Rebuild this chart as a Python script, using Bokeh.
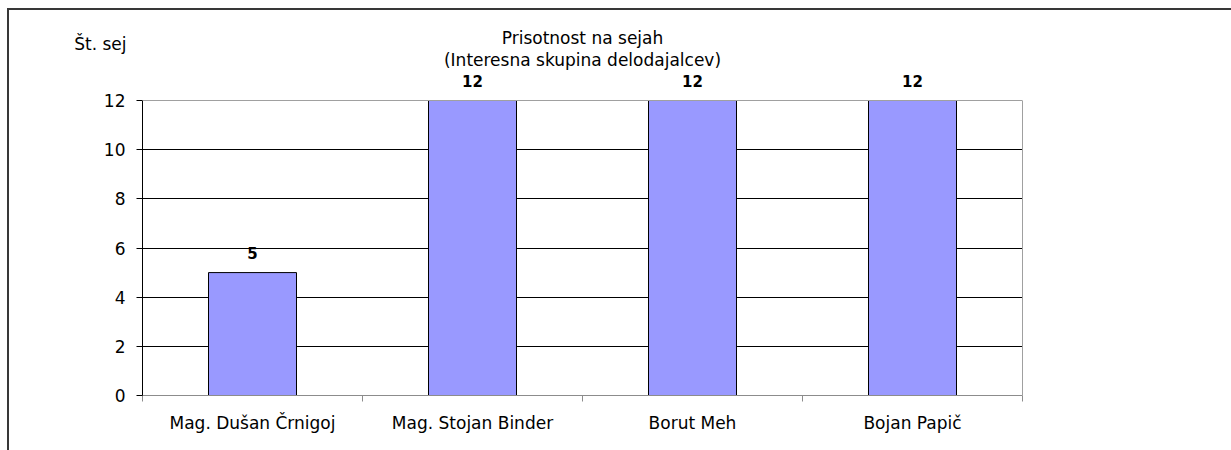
from bokeh.plotting import figure
from bokeh.layouts import column
from bokeh.models import (Range1d, FixedTicker, ColumnDataSource, LabelSet, Label,
                          Span, LinearAxis)
from bokeh.core.properties import value
from bokeh.embed import file_html
from bokeh.resources import INLINE

categories = ["Mag. Dušan Črnigoj", "Mag. Stojan Binder", "Borut Meh", "Bojan Papič"]
values = [5, 12, 12, 12]
y_ticks = [0, 2, 4, 6, 8, 10, 12]
title_lines = ["Prisotnost na sejah", "(Interesna skupina delodajalcev)"]
y_title = "Št. sej"

FONT = "DejaVu Sans"
FS = "17px"

# layout geometry (pixels)
W = 1222
FL, FR = 133, 209          # left / right borders (shared by both rows)
HEAD_H = 60                # header strip height
HEAD_TOP = 6
MAIN_H = 380
GAP_TOP = 30               # pixels between main frame top and the value 12
MB_BOT = 55
AX_GRAY = "#8c8c8c"

n = len(categories)
ymax = max(y_ticks)
xpos = [i + 0.5 for i in range(n)]
src = ColumnDataSource(dict(x=xpos, top=values, lab=[str(v) for v in values]))

uy = (MAIN_H - MB_BOT - GAP_TOP) / ymax     # px per y unit
y_top = ymax + GAP_TOP / uy

# ---- main plot ----
p = figure(width=W, height=MAIN_H, output_backend="svg", toolbar_location=None,
           x_range=Range1d(0, n), y_range=Range1d(0, y_top),
           min_border_left=FL, min_border_right=FR,
           min_border_top=0, min_border_bottom=MB_BOT)
p.background_fill_color = "white"
p.border_fill_color = "white"
p.outline_line_color = None

p.vbar(x="x", top="top", width=0.4, bottom=0, source=src,
       fill_color="#9999FF", line_color="black", line_width=1)

p.yaxis.ticker = FixedTicker(ticks=y_ticks)
p.yaxis.bounds = (0, ymax)
p.yaxis.axis_line_color = "black"
p.yaxis.major_tick_line_color = "black"
p.yaxis.major_tick_out = 6
p.yaxis.major_tick_in = 0
p.yaxis.minor_tick_line_color = None
p.yaxis.major_label_standoff = 11
p.yaxis.major_label_text_font = FONT
p.yaxis.major_label_text_font_size = FS
p.yaxis.major_label_text_color = "black"

# right border of the plot area, limited to 0..12
right_ax = LinearAxis(ticker=FixedTicker(ticks=[]), bounds=(0, ymax),
                      axis_line_color="#a0a0a0", major_tick_line_color=None,
                      minor_tick_line_color=None, major_tick_out=0, minor_tick_out=0,
                      major_label_text_font_size="0px")
p.add_layout(right_ax, "right")

# top border of the plot area at 12
p.add_layout(Span(location=ymax, dimension="width", line_color="#a0a0a0", line_width=1))

p.xaxis.ticker = FixedTicker(ticks=xpos, minor_ticks=list(range(n + 1)))
p.xaxis.major_label_overrides = {x: c for x, c in zip(xpos, categories)}
p.xaxis.axis_line_color = AX_GRAY
p.xaxis.major_tick_line_color = None
p.xaxis.minor_tick_line_color = AX_GRAY
p.xaxis.minor_tick_out = 6
p.xaxis.minor_tick_in = 0
p.xaxis.major_label_standoff = 11
p.xaxis.major_label_text_font = FONT
p.xaxis.major_label_text_font_size = FS
p.xaxis.major_label_text_color = "black"

p.xgrid.visible = False
p.ygrid.ticker = FixedTicker(ticks=y_ticks[1:-1])
p.ygrid.grid_line_color = "black"
p.ygrid.grid_line_width = 1

p.add_layout(LabelSet(x="x", y="top", text="lab", source=src, text_align="center",
                      text_baseline="alphabetic", y_offset=14, text_font=value(FONT),
                      text_font_style="bold", text_font_size="15px", text_color="black"))

# ---- header strip (titles), continuing the same scales upward ----
h = figure(width=W, height=HEAD_H, output_backend="svg", toolbar_location=None,
           x_axis_type=None, x_range=p.x_range,
           y_range=Range1d(y_top, y_top + (HEAD_H - HEAD_TOP) / uy),
           min_border_left=FL, min_border_right=FR,
           min_border_top=HEAD_TOP, min_border_bottom=0)
h.outline_line_color = None
h.grid.visible = False
h.background_fill_color = "white"
h.border_fill_color = "white"

h.yaxis.ticker = FixedTicker(ticks=[])
h.yaxis.axis_line_color = None
h.yaxis.major_tick_line_color = None
h.yaxis.minor_tick_line_color = None
h.yaxis.major_tick_out = 0
h.yaxis.minor_tick_out = 0
h.yaxis.major_label_text_font_size = "0px"
h.yaxis.axis_label = y_title
h.yaxis.axis_label_orientation = "horizontal"
h.yaxis.axis_label_standoff = 16
h.yaxis.axis_label_text_font = FONT
h.yaxis.axis_label_text_font_style = "normal"
h.yaxis.axis_label_text_font_size = FS
h.yaxis.axis_label_text_color = "black"

for txt, off in zip(title_lines, [63, 41]):
    h.add_layout(Label(x=n / 2, y=ymax, y_offset=off, text=txt,
                       text_align="center", text_baseline="alphabetic",
                       text_font=FONT, text_font_size=FS, text_color="black"))

layout = column(h, p, spacing=0)
layout.styles = {"margin-left": "7px", "margin-top": "8px",
                 "border-top": "2px solid #383838", "border-left": "2px solid #383838"}

open("out.html", "w").write(file_html(layout, INLINE))
